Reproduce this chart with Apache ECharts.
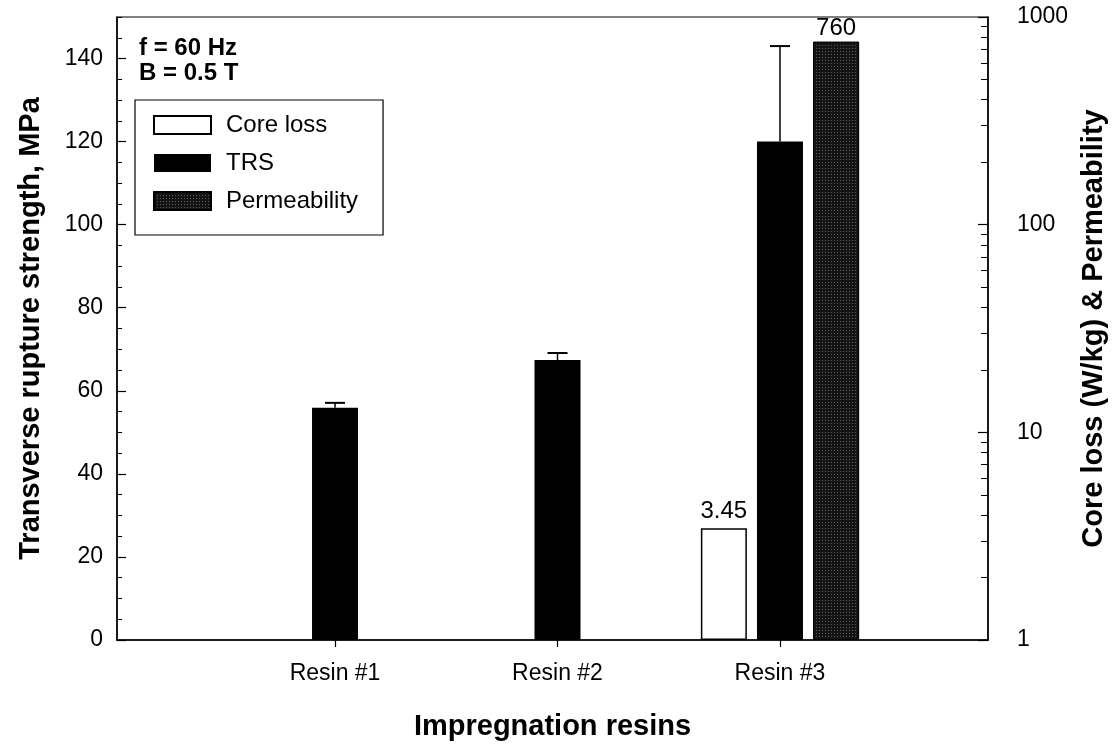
<!DOCTYPE html>
<html>
<head>
<meta charset="utf-8">
<script src="https://cdn.jsdelivr.net/npm/echarts@6/dist/echarts.min.js"></script>
<style>
html,body{margin:0;padding:0;background:#fff;}
#chart{width:1115px;height:745px;}
</style>
</head>
<body>
<div id="chart"></div>
<script>
// ---- data ----
const categories = ['Resin #1', 'Resin #2', 'Resin #3'];
const catPos = [1, 2, 3];
const trs = [55.9, 67.4, 120];
const trsErrTop = [57.1, 69.1, 143];
const coreLoss = [null, null, 3.45];
const permeability = [null, null, 760];
const leftMajorTicks = [0, 20, 40, 60, 80, 100, 120, 140];
const leftMinorTicks = [5, 10, 15, 25, 30, 35, 45, 50, 55, 65, 70, 75, 85, 90, 95, 105, 110, 115, 125, 130, 135, 145, 150];
const rightMajorTicks = [1, 10, 100, 1000];
const rightMinorTicks = [2, 3, 4, 5, 6, 7, 8, 9, 20, 30, 40, 50, 60, 70, 80, 90, 200, 300, 400, 500, 600, 700, 800, 900];
const annotations = ['f = 60 Hz', 'B = 0.5 T'];

const FONT = "'Liberation Sans', Arial, Helvetica, sans-serif";

function pairs(vals) {
  const out = [];
  vals.forEach((v, i) => { if (v !== null) out.push([catPos[i], v]); });
  return out;
}

const chart = echarts.init(document.getElementById('chart'), null, {renderer: 'canvas'});

const option = {
  backgroundColor: '#ffffff',
  animation: false,
  textStyle: {fontFamily: FONT},
  grid: {
    left: 117, right: 127, top: 17, bottom: 105,
    outerBoundsMode: 'none', containLabel: false,
    show: true, borderColor: '#000', borderWidth: 1.2, backgroundColor: 'transparent'
  },
  legend: {
    data: ['Core loss', 'TRS', 'Permeability'],
    orient: 'vertical',
    left: 135, top: 100,
    padding: [13, 25, 22, 18],
    icon: 'rect',
    itemWidth: 57, itemHeight: 18, itemGap: 14,
    borderColor: '#000', borderWidth: 1.2,
    selectedMode: false,
    textStyle: {fontFamily: FONT, fontSize: 24, color: '#000', padding: [0, 0, 0, 10], lineHeight: 24}
  },
  graphic: [
    {type: 'text', left: 139, top: 36, style: {text: annotations[0], font: "bold 24px " + FONT, fill: '#000'}},
    {type: 'text', left: 139, top: 61, style: {text: annotations[1], font: "bold 24px " + FONT, fill: '#000'}}
  ],
  xAxis: {
    type: 'value', min: 0.02, max: 3.935,
    name: 'Impregnation resins', nameLocation: 'middle', nameGap: 72,
    nameTextStyle: {fontFamily: FONT, fontSize: 29, fontWeight: 'bold', color: '#000'},
    axisLine: {show: true, lineStyle: {color: '#000', width: 1.5}},
    axisTick: {show: true, inside: false, length: 7, customValues: catPos, lineStyle: {color: '#000', width: 1.2}},
    axisLabel: {
      show: true, margin: 22, fontSize: 23, color: '#000', fontFamily: FONT,
      customValues: catPos,
      formatter: function (v) { const i = catPos.indexOf(Math.round(v)); return i >= 0 ? categories[i] : ''; }
    },
    splitLine: {show: false}
  },
  yAxis: [
    {
      type: 'value', min: 0, max: 150, position: 'left',
      name: 'Transverse rupture strength, MPa', nameLocation: 'middle', nameGap: 72, nameRotate: 90,
      nameTextStyle: {fontFamily: FONT, fontSize: 29, fontWeight: 'bold', color: '#000'},
      axisLine: {show: true, lineStyle: {color: '#000', width: 1.5}},
      axisTick: {show: true, inside: true, length: 9, customValues: leftMajorTicks, lineStyle: {color: '#000', width: 1.2}},
      axisLabel: {show: true, margin: 14, fontSize: 23, color: '#000', fontFamily: FONT, customValues: leftMajorTicks,
        formatter: function (v) { return String(v); }},
      splitLine: {show: false}
    },
    {
      type: 'log', logBase: 10, min: 1, max: 1000, position: 'right',
      name: 'Core loss (W/kg) & Permeability', nameLocation: 'middle', nameGap: 82, nameRotate: 90,
      nameTextStyle: {fontFamily: FONT, fontSize: 29, fontWeight: 'bold', color: '#000'},
      axisLine: {show: true, lineStyle: {color: '#000', width: 1.5}},
      axisTick: {show: true, inside: true, length: 10, customValues: rightMajorTicks, lineStyle: {color: '#000', width: 1.2}},
      axisLabel: {show: true, margin: 29, fontSize: 23, color: '#000', fontFamily: FONT, customValues: rightMajorTicks,
        formatter: function (v) { return String(Math.round(v)); }},
      splitLine: {show: false}
    },
    {
      type: 'value', min: 0, max: 150, position: 'left',
      axisLine: {show: false},
      axisTick: {show: true, inside: true, length: 5, customValues: leftMinorTicks, lineStyle: {color: '#000', width: 1}},
      axisLabel: {show: false},
      splitLine: {show: false}
    },
    {
      type: 'log', logBase: 10, min: 1, max: 1000, position: 'right',
      axisLine: {show: false},
      axisTick: {show: true, inside: true, length: 7, customValues: rightMinorTicks, lineStyle: {color: '#000', width: 1}},
      axisLabel: {show: false},
      splitLine: {show: false}
    }
  ],
  series: [
    {
      name: 'Core loss', type: 'bar', xAxisIndex: 0, yAxisIndex: 1,
      barWidth: 46, barGap: '22%',
      data: pairs(coreLoss),
      itemStyle: {color: '#ffffff', borderColor: '#000', borderWidth: 1.5},
      label: {show: true, position: 'top', distance: 5, fontSize: 24, color: '#000', fontFamily: FONT,
        formatter: function (p) { return String(p.value[1]); }}
    },
    {
      name: 'TRS', type: 'bar', xAxisIndex: 0, yAxisIndex: 0,
      barWidth: 46, barGap: '22%',
      data: pairs(trs),
      itemStyle: {color: '#000000'}
    },
    {
      name: 'Permeability', type: 'bar', xAxisIndex: 0, yAxisIndex: 1,
      barWidth: 46, barGap: '22%',
      data: pairs(permeability),
      itemStyle: {
        color: '#141414', borderColor: '#000', borderWidth: 1,
        decal: {symbol: 'rect', symbolSize: 1, color: 'rgba(255,255,255,0.3)', dashArrayX: [1, 2], dashArrayY: [1, 2], rotation: 0}
      },
      label: {show: true, position: 'top', distance: 1, fontSize: 24, color: '#000', fontFamily: FONT,
        formatter: function (p) { return String(p.value[1]); }}
    },
    {
      name: 'TRS error', type: 'custom', xAxisIndex: 0, yAxisIndex: 0, z: 5,
      data: catPos.map((x, i) => [x, trs[i], trsErrTop[i]]),
      encode: {x: 0, y: [1, 2]},
      renderItem: function (params, api) {
        const base = api.coord([api.value(0), api.value(1)]);
        const top = api.coord([api.value(0), api.value(2)]);
        const half = 10;
        return {
          type: 'group',
          children: [
            {type: 'line', shape: {x1: top[0], y1: base[1], x2: top[0], y2: top[1]}, style: {stroke: '#000', lineWidth: 1.5}},
            {type: 'line', shape: {x1: top[0] - half, y1: top[1], x2: top[0] + half, y2: top[1]}, style: {stroke: '#000', lineWidth: 2}}
          ]
        };
      }
    }
  ]
};
chart.setOption(option);
</script>
</body>
</html>
